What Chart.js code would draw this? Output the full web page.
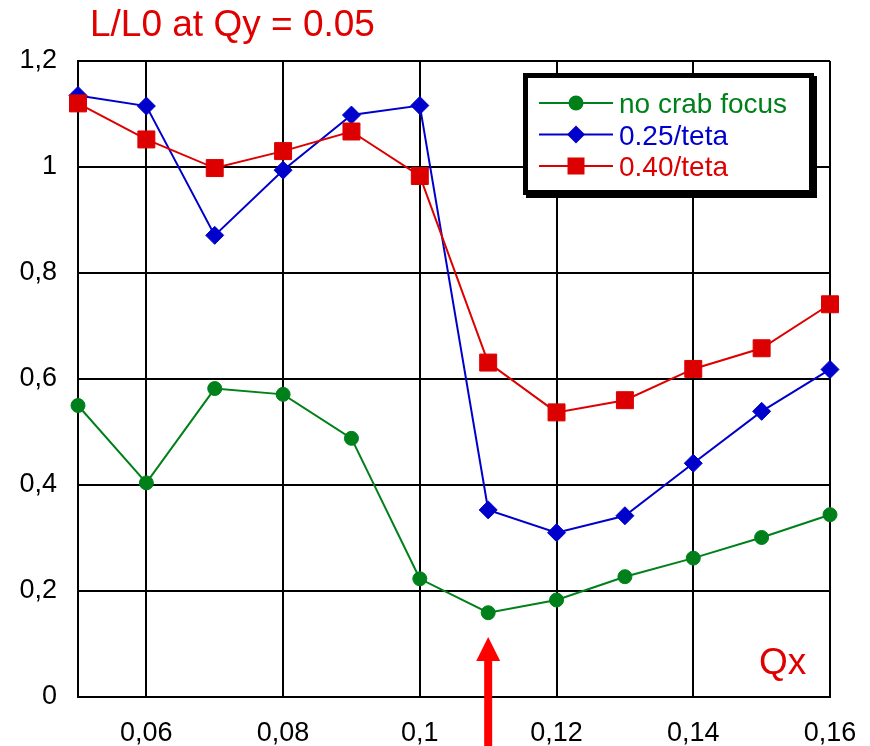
<!DOCTYPE html>
<html lang="en">
<head>
    <meta charset="UTF-8">
    <title>L/L0 at Qy = 0.05</title>
    <script src="https://cdn.jsdelivr.net/npm/chart.js"></script>
    <style>
        body {
            margin: 0;
            background-color: #fff;
        }

        #chart-container {
            position: relative;
            width: 870px;
            height: 746px;
        }
    </style>
</head>
<body>
<div id="chart-container">
    <canvas id="lumiChart" width="870" height="746"></canvas>
</div>
<script>
    // values
    var qx = [0.05, 0.06, 0.07, 0.08, 0.09, 0.10, 0.11, 0.12, 0.13, 0.14, 0.15, 0.16];
    var noCrabFocus = [0.55, 0.404, 0.582, 0.571, 0.488, 0.223, 0.159, 0.183, 0.227, 0.262, 0.301, 0.344];
    var teta025 = [1.135, 1.115, 0.871, 0.994, 1.098, 1.116, 0.353, 0.31, 0.342, 0.441, 0.539, 0.618];
    var teta040 = [1.12, 1.052, 0.998, 1.03, 1.067, 0.983, 0.631, 0.537, 0.56, 0.619, 0.658, 0.741];
    var seriesNames = ["no crab focus", "0.25/teta", "0.40/teta"];

    var xTicks = [0.06, 0.08, 0.10, 0.12, 0.14, 0.16];
    var xTickLabels = ["0,06", "0,08", "0,1", "0,12", "0,14", "0,16"];
    var yTicks = [0, 0.2, 0.4, 0.6, 0.8, 1.0, 1.2];
    var yTickLabels = ["0", "0,2", "0,4", "0,6", "0,8", "1", "1,2"];
    var arrowQx = 0.11;

    var GREEN = "#00801a";
    var BLUE = "#0000cc";
    var RED = "#dd0000";
    var FONT = '"Liberation Sans", Arial, sans-serif';

    function points(ys) {
        return ys.map(function (y, i) { return {x: qx[i], y: y}; });
    }

    // title, Qx label, arrow and the boxed legend
    var decorations = {
        id: "decorations",
        afterDraw: function (chart) {
            var ctx = chart.ctx;
            var area = chart.chartArea;
            ctx.save();

            ctx.fillStyle = "#e00000";
            ctx.font = "37px " + FONT;
            ctx.textBaseline = "alphabetic";
            ctx.fillText("L/L0 at Qy = 0.05", 90, 36);
            ctx.fillText("Qx", area.right - 71, area.bottom - 23);

            // red arrow pointing at Qx = 0.11
            var ax = chart.scales.x.getPixelForValue(arrowQx);
            var tip = area.bottom - 60;
            ctx.fillStyle = "#ff0000";
            ctx.beginPath();
            ctx.moveTo(ax, tip);
            ctx.lineTo(ax + 12, tip + 24);
            ctx.lineTo(ax - 12, tip + 24);
            ctx.closePath();
            ctx.fill();
            ctx.fillRect(ax - 4, tip + 23, 8, chart.height - tip);

            // legend box
            var bx = area.right - 307, by = area.top + 12, bw = 291, bh = 122;
            ctx.fillStyle = "#000";
            ctx.fillRect(bx + 3, by + 3, bw, bh);
            ctx.fillRect(bx, by, bw, bh);
            ctx.fillStyle = "#fff";
            ctx.fillRect(bx + 5, by + 5, bw - 10, bh - 10);

            var cols = [GREEN, BLUE, RED];
            ctx.font = "28px " + FONT;
            for (var i = 0; i < 3; i++) {
                var cy = by + 30 + i * 31.5;
                var mx = bx + 53;
                ctx.strokeStyle = cols[i];
                ctx.fillStyle = cols[i];
                ctx.lineWidth = 2;
                ctx.beginPath();
                ctx.moveTo(bx + 16, cy);
                ctx.lineTo(bx + 90, cy);
                ctx.stroke();
                ctx.beginPath();
                if (i === 0) {
                    ctx.arc(mx, cy, 7.5, 0, Math.PI * 2);
                } else if (i === 1) {
                    ctx.moveTo(mx - 9, cy);
                    ctx.lineTo(mx, cy - 9);
                    ctx.lineTo(mx + 9, cy);
                    ctx.lineTo(mx, cy + 9);
                    ctx.closePath();
                } else {
                    ctx.rect(mx - 8.5, cy - 8.5, 17, 17);
                }
                ctx.fill();
                ctx.fillText(seriesNames[i], bx + 96, cy + 10);
            }
            ctx.restore();
        }
    };

    var ctx = document.getElementById("lumiChart").getContext("2d");
    var myChart = new Chart(ctx, {
        type: "line",
        data: {
            datasets: [
                {
                    label: seriesNames[0],
                    data: points(noCrabFocus),
                    borderColor: GREEN,
                    backgroundColor: GREEN,
                    borderWidth: 2,
                    pointStyle: "circle",
                    pointRadius: 7,
                    pointBorderWidth: 1,
                    order: 3,
                    clip: false
                },
                {
                    label: seriesNames[1],
                    data: points(teta025),
                    borderColor: BLUE,
                    backgroundColor: BLUE,
                    borderWidth: 2,
                    pointStyle: "rectRot",
                    pointRadius: 9,
                    pointBorderWidth: 1,
                    order: 2,
                    clip: false
                },
                {
                    label: seriesNames[2],
                    data: points(teta040),
                    borderColor: RED,
                    backgroundColor: RED,
                    borderWidth: 2,
                    pointStyle: "rect",
                    pointRadius: 12,
                    pointBorderWidth: 1,
                    order: 1,
                    clip: false
                }
            ]
        },
        options: {
            responsive: false,
            animation: false,
            devicePixelRatio: 1,
            layout: {padding: {top: 61, right: 40, left: 0, bottom: 0}},
            plugins: {
                legend: {display: false},
                tooltip: {enabled: false}
            },
            scales: {
                x: {
                    type: "linear",
                    min: 0.05,
                    max: 0.16,
                    afterBuildTicks: function (scale) {
                        scale.ticks = xTicks.map(function (v) { return {value: v}; });
                    },
                    afterFit: function (scale) {
                        scale.height = 49;
                        scale.paddingLeft = 0;
                        scale.paddingRight = 0;
                    },
                    ticks: {
                        callback: function (value, index) { return xTickLabels[index]; },
                        color: "#000",
                        font: {family: FONT, size: 27},
                        padding: 20,
                        maxRotation: 0
                    },
                    grid: {color: "#000", lineWidth: 2, drawTicks: false},
                    border: {color: "#000", width: 2}
                },
                y: {
                    min: 0,
                    max: 1.2,
                    afterBuildTicks: function (scale) {
                        scale.ticks = yTicks.map(function (v) { return {value: v}; });
                    },
                    afterFit: function (scale) {
                        scale.width = 78;
                        scale.paddingTop = 0;
                        scale.paddingBottom = 0;
                    },
                    ticks: {
                        callback: function (value, index) { return yTickLabels[index]; },
                        color: "#000",
                        font: {family: FONT, size: 27},
                        padding: 21
                    },
                    grid: {color: "#000", lineWidth: 2, drawTicks: false},
                    border: {color: "#000", width: 2}
                }
            }
        },
        plugins: [decorations]
    });
</script>
</body>
</html>
